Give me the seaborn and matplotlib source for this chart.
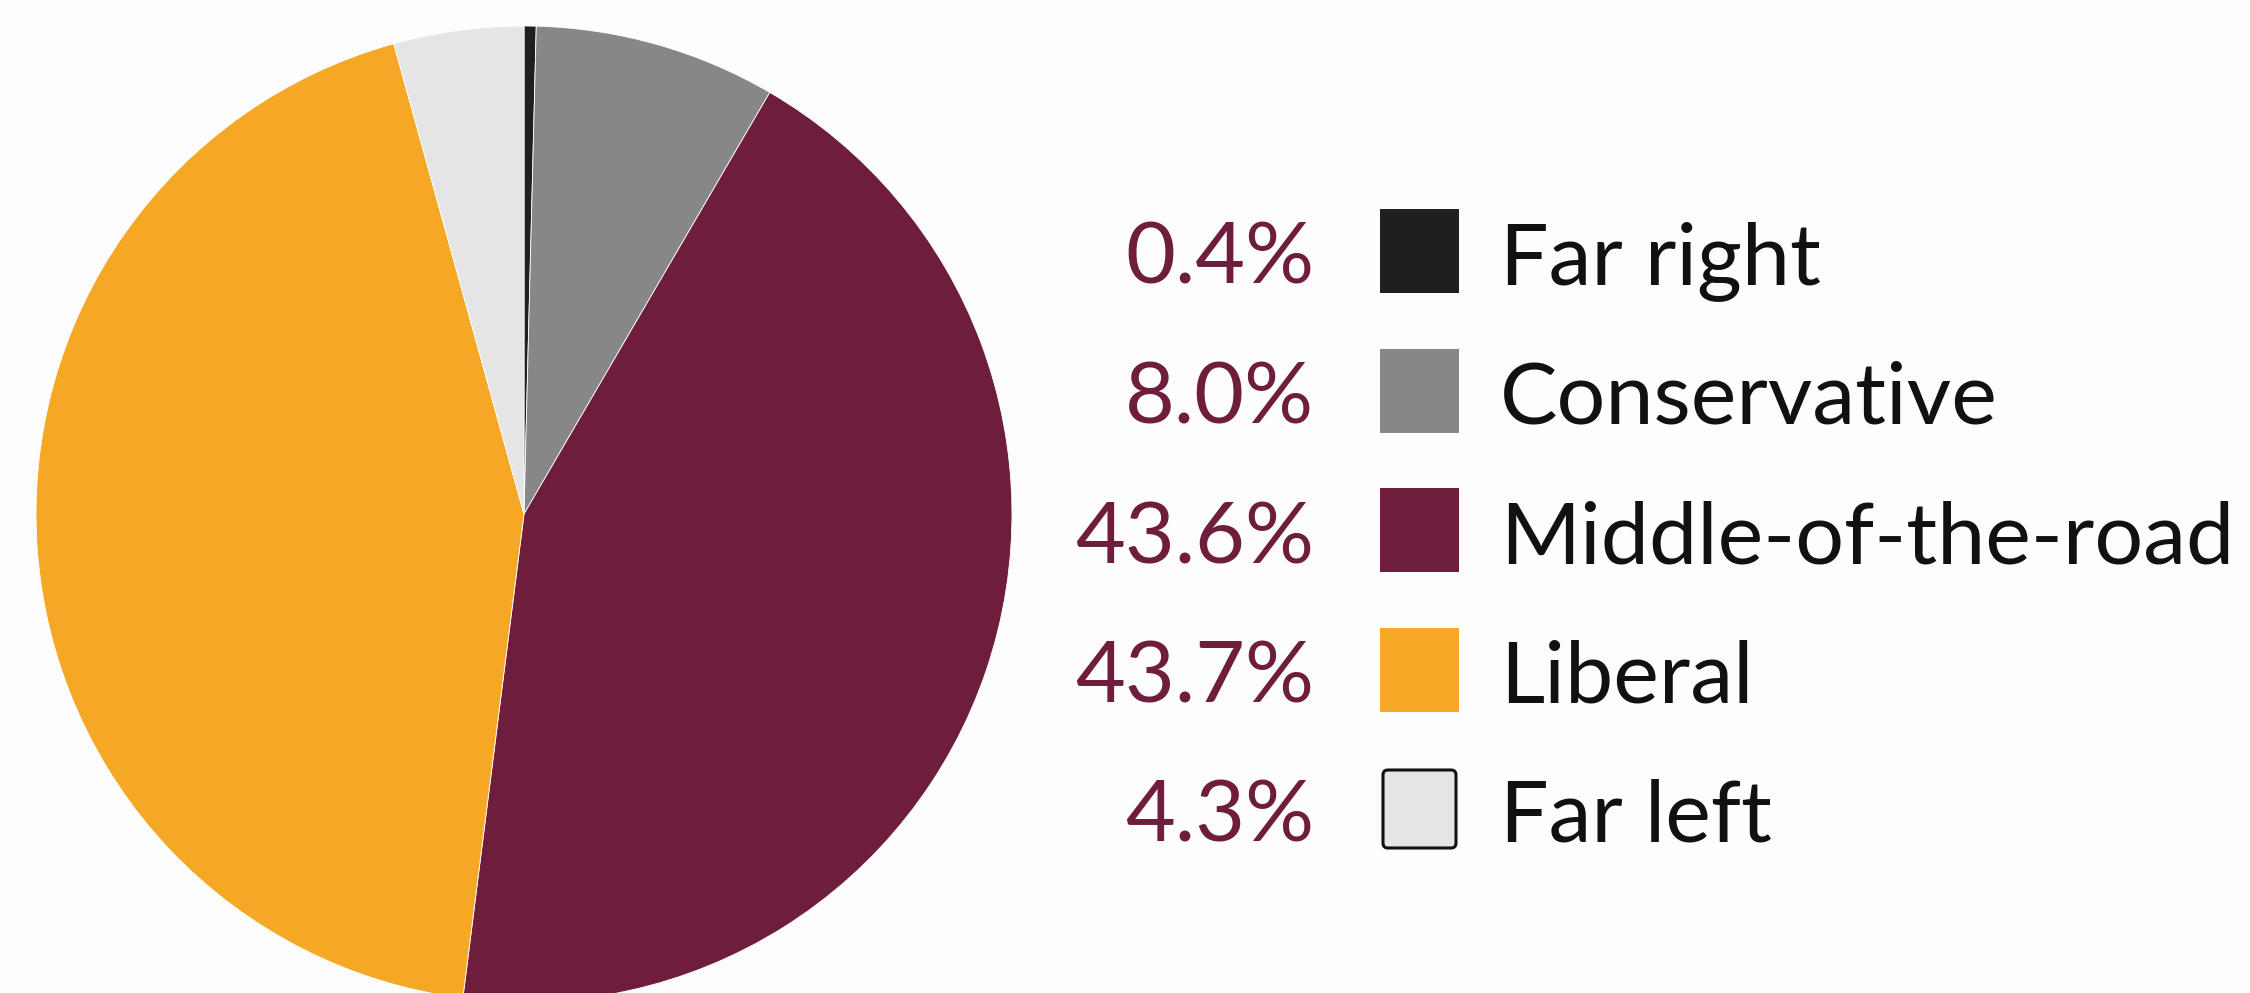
import matplotlib
matplotlib.use("Agg")
import matplotlib.pyplot as plt
import seaborn as sns
from matplotlib.patches import Rectangle, FancyBboxPatch

categories = ["Far right", "Conservative", "Middle-of-the-road", "Liberal", "Far left"]
shares = [0.4, 8.0, 43.6, 43.7, 4.3]
colors = ["#201f1d", "#878787", "#6f1d3c", "#f4a825", "#e5e5e5"]
pct_labels = [f"{v:.1f}%" for v in shares]

sns.set_theme(style="white")
plt.rcParams["font.family"] = ["Lato", "DejaVu Sans"]

W, H = 2250, 993
fig = plt.figure(figsize=(W / 100, H / 100), dpi=100)
bg = "#fdfdfd"
fig.patch.set_facecolor(bg)

# Pie axes
cx, cy, r = 524, 514, 488
ax = fig.add_axes([(cx - r) / W, (H - cy - r) / H, 2 * r / W, 2 * r / H])
ax.pie(shares, colors=colors, startangle=90, counterclock=False, radius=1,
       wedgeprops=dict(edgecolor="white", linewidth=0.6))
ax.set_xlim(-1, 1)
ax.set_ylim(-1, 1)
ax.set_aspect("equal")
ax.axis("off")

# Legend overlay (pixel coordinates)
lax = fig.add_axes([0, 0, 1, 1], facecolor="none")
lax.set_xlim(0, W)
lax.set_ylim(H, 0)
lax.axis("off")

row0, step = 251, 139.5
fs = 62
for i, (cat, pct, col) in enumerate(zip(categories, pct_labels, colors)):
    yc = row0 + i * step
    base = yc + 33
    lax.text(1314, base, pct, ha="right", va="baseline", fontsize=fs,
             color="#6f1d3c", fontweight="normal")
    if cat == "Far left":
        p = FancyBboxPatch((1383, yc - 39), 73, 78,
                           boxstyle="round,pad=0,rounding_size=5",
                           facecolor=col, edgecolor="#111111", linewidth=2.2)
    else:
        p = Rectangle((1380, yc - 42), 79, 84, facecolor=col, edgecolor="none")
    lax.add_patch(p)
    lax.text(1500, base, cat, ha="left", va="baseline", fontsize=fs, color="#111111")

fig.savefig("out.png", dpi=100, facecolor=bg)
